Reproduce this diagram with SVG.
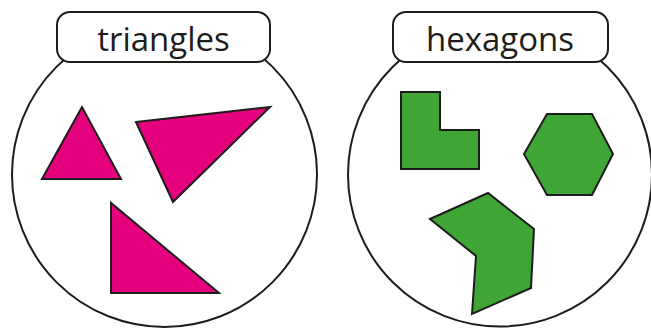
<svg xmlns="http://www.w3.org/2000/svg" width="651" height="328" viewBox="0 0 651 328">
<style>
.ring{fill:#fff;stroke:#1d1d1b;stroke-width:2}
.lbl{fill:#fff;stroke:#1d1d1b;stroke-width:2}
.txt{font-family:"Open Sans","Noto Sans",sans-serif;font-size:33px;fill:#1d1d1b;text-anchor:middle}
.mag{fill:#e5007d;stroke:#1d1d1b;stroke-width:2;stroke-linejoin:miter}
.grn{fill:#3fa535;stroke:#1d1d1b;stroke-width:2;stroke-linejoin:miter}
</style>
<rect width="651" height="328" fill="#fff"/>
<g id="triangles">
<circle class="ring" cx="164.5" cy="174.5" r="152.5"/>
<rect class="lbl" x="57" y="12" width="213" height="50" rx="13"/>
<text class="txt" x="163.5" y="51">triangles</text>
<polygon class="mag" points="82,107 42,179 121,179"/>
<polygon class="mag" points="136,122 270,107 173,202"/>
<polygon class="mag" points="111,203 111,293 219,293"/>
</g>
<g id="hexagons">
<circle class="ring" cx="500" cy="174.5" r="152"/>
<rect class="lbl" x="393" y="12" width="215" height="50" rx="13"/>
<text class="txt" x="500" y="51">hexagons</text>
<polygon class="grn" points="401,92 440,92 440,130 479,130 479,169 401,169"/>
<polygon class="grn" points="547,114 592,114 613,154 592,195 547,195 524,154"/>
<polygon class="grn" points="430,219 488,193 534,229 531,288 472,314 476,256"/>
</g>
<g id="connectors"/>
</svg>
